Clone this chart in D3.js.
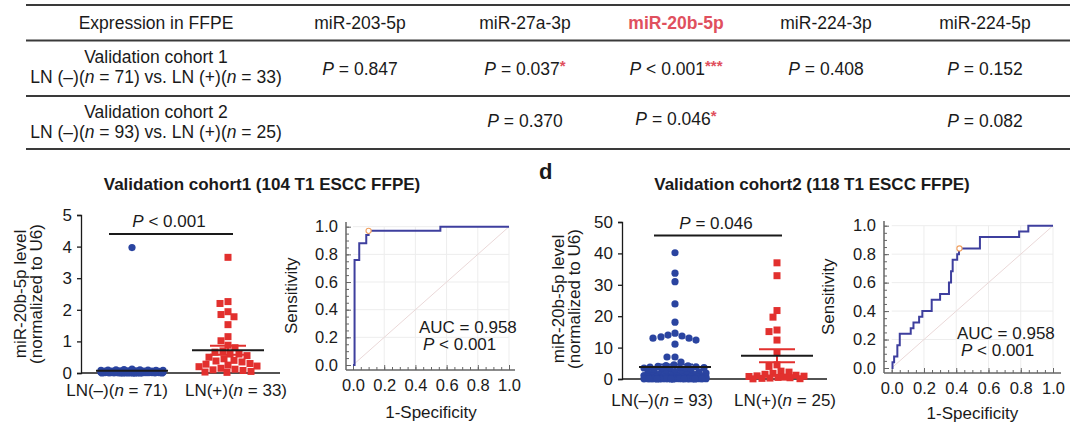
<!DOCTYPE html>
<html><head><meta charset="utf-8">
<script src="https://cdn.jsdelivr.net/npm/d3@7/dist/d3.min.js"></script>
<style>
body{margin:0;background:#fff}
svg{display:block;font-family:"Liberation Sans",Arial,Helvetica,sans-serif;}
</style>
</head><body>
<svg id="c" width="1080" height="428"></svg>
<script>
// ================= DATA =================
// --- table
const tableColumns = ["Expression in FFPE","miR-203-5p","miR-27a-3p","miR-20b-5p","miR-224-3p","miR-224-5p"];
const highlightColumn = "miR-20b-5p";
const cohortNames = ["Validation cohort 1","Validation cohort 2"];
const lnNegN = [71, 93];
const lnPosN = [33, 25];
const pCohort1 = ["= 0.847","= 0.037","< 0.001","= 0.408","= 0.152"];
const starsCohort1 = ["","*","***","",""];
const pCohort2 = ["","= 0.370","= 0.046","","= 0.082"];
const starsCohort2 = ["","","*","",""];

// --- scatter panels (miR-20b-5p level normalized to U6)
const groupNames = ["LN(–)","LN(+)"];
const c1Neg = [3.97,0.12,0.11,0.1,0.1,0.09,0.09,0.08,0.08,0.08,0.07,0.07,0.07,0.06,0.06,0.06,0.06,
  0.05,0.05,0.05,0.05,0.05,0.04,0.04,0.04,0.04,0.04,0.04,0.03,0.03,0.03,0.03,0.03,0.03,0.03,
  0.02,0.02,0.02,0.02,0.02,0.02,0.02,0.02,0.01,0.01,0.01,0.01,0.01,0.01,0.01,0.01,0.01,0.01,0.01,0.01,
  0.005,0.005,0.005,0.005,0.005,0.005,0.005,0.005,0.005,0.005,0.003,0.003,0.003,0.002,0.002,0.001];
const c1Pos = [3.66,2.26,2.2,1.94,1.85,1.78,1.53,1.15,1.02,0.88,0.8,0.7,0.66,0.6,0.6,0.55,0.5,
  0.45,0.4,0.38,0.35,0.3,0.28,0.25,0.22,0.2,0.15,0.12,0.1,0.08,0.05,0.03,0.02];
const c1Mean = [0.07, 0.72];
const c1Sem = [0.02, 0.14];
const c1Ticks = [0,1,2,3,4,5];

const c2Neg = [40.2,33.7,31,23.9,18.1,14.6,14,13.7,13.4,13,13,12.4,11.1,7,7,5.4,
  4.5,4.3,4.2,4.0,3.9,3.8,3.6,3.5,3.4,3.2,
  3.0,2.8,2.6,2.5,2.3,2.2,2.0,1.9,1.8,1.7,
  1.5,1.4,1.3,1.2,1.1,1.0,0.9,0.9,0.8,0.8,
  0.7,0.6,0.6,0.5,0.5,0.4,0.4,0.4,0.3,0.3,
  0.3,0.3,0.25,0.25,0.2,0.2,0.2,0.2,0.18,0.15,
  0.15,0.15,0.12,0.12,0.12,0.1,0.1,0.1,0.1,0.1,0.1,0.09,0.09,0.08,0.08,0.07,0.07,0.06,0.06,0.05,0.05,0.04,0.04,0.03,0.03,0.02,0.01];
const c2Pos = [37,32.9,21.8,19.7,15.6,15.1,12.4,8.4,4.5,4.0,2.5,2.2,1.8,1.5,1.2,1.0,0.9,0.8,0.6,0.5,0.4,0.3,0.2,0.1,0.05];
const c2Mean = [3.8, 7.4];
const c2Sem = [0.8, 2.1];
const c2Ticks = [0,10,20,30,40,50];

const pScatter = ["< 0.001","= 0.046"];

// --- ROC curves (step vertices: 1-specificity, sensitivity)
const roc1Fpr = [0, 0.01, 0.04, 0.085, 0.1, 0.56, 1];
const roc1Tpr = [0, 0.76, 0.88, 0.94, 0.97, 1.0, 1];
const roc1Cut = [0.1, 0.97];
const roc2Fpr = [0,0.005,0.015,0.035,0.05,0.118,0.135,0.17,0.19,0.248,0.3,0.355,0.368,0.378,0.406,0.417,0.547,0.79,0.847,1];
const roc2Tpr = [0,0.04,0.08,0.16,0.24,0.28,0.32,0.36,0.40,0.48,0.52,0.60,0.68,0.76,0.80,0.84,0.92,0.96,1.0,1];
const roc2Cut = [0.42, 0.84];
const aucText = ["AUC = 0.958","AUC = 0.958"];
const aucP = ["< 0.001","< 0.001"];
const rocTicks = [0,0.2,0.4,0.6,0.8,1.0];

// ================= DRAW =================
const svg = d3.select("#c");
const INK = "#1a1a1a";
const BLUE = "#2a44a0", RED = "#e2302e", CURVE = "#3e3f9e", HIL = "#e0505e";
const TFS = 17.5;

// ---------- table ----------
const colX = d3.scaleOrdinal().domain(tableColumns).range([156,360,525,676,826,985]);
const rules = [5, 40.5, 96, 149];
svg.append("g").selectAll("line").data(rules).join("line")
  .attr("x1",26).attr("x2",1070).attr("y1",d=>d).attr("y2",d=>d)
  .attr("stroke","#3a3a3a").attr("stroke-width",2);

svg.append("g").selectAll("text").data(tableColumns).join("text")
  .attr("x",d=>colX(d)).attr("y",29).attr("text-anchor","middle")
  .attr("font-size",TFS)
  .attr("font-weight",d=>d===highlightColumn?"bold":"normal")
  .attr("fill",d=>d===highlightColumn?HIL:INK)
  .text(d=>d);

const rowTop = [57, 112];
cohortNames.forEach((name,i)=>{
  const cy = rowTop[i];
  svg.append("text").attr("x",colX(tableColumns[0])).attr("y",cy+6).attr("text-anchor","middle")
    .attr("font-size",TFS).attr("fill",INK).text(name);
  const t = svg.append("text").attr("x",colX(tableColumns[0])).attr("y",cy+26).attr("text-anchor","middle")
    .attr("font-size",TFS).attr("fill",INK);
  t.append("tspan").text("LN (–)(");
  t.append("tspan").attr("font-style","italic").text("n");
  t.append("tspan").text(` = ${lnNegN[i]}) vs. LN (+)(`);
  t.append("tspan").attr("font-style","italic").text("n");
  t.append("tspan").text(` = ${lnPosN[i]})`);
});
function pCell(x, y, val, stars){
  if(!val) return;
  const t = svg.append("text").attr("x",x).attr("y",y).attr("text-anchor","middle")
    .attr("font-size",TFS).attr("fill",INK);
  t.append("tspan").attr("font-style","italic").text("P");
  t.append("tspan").text(" " + val);
  if(stars) t.append("tspan").attr("fill",HIL).attr("font-weight","bold").attr("font-size",15)
    .attr("dy",-4).text(stars);
}
tableColumns.slice(1).forEach((c,j)=>{
  pCell(colX(c), 75, pCohort1[j], starsCohort1[j]);
  pCell(colX(c), c===highlightColumn?125:127, pCohort2[j], starsCohort2[j]);
});

// ---------- panel titles ----------
svg.append("text").attr("x",262).attr("y",190).attr("text-anchor","middle")
  .attr("font-size",17).attr("font-weight","bold").attr("fill",INK)
  .text("Validation cohort1 (104 T1 ESCC FFPE)");
svg.append("text").attr("x",812).attr("y",190).attr("text-anchor","middle")
  .attr("font-size",17).attr("font-weight","bold").attr("fill",INK)
  .text("Validation cohort2 (118 T1 ESCC FFPE)");
svg.append("text").attr("x",539).attr("y",179).attr("font-size",22).attr("font-weight","bold")
  .attr("fill",INK).text("d");

// ---------- beeswarm helper ----------
function swarm(values, yScale, diam, maxHalf){
  const placed = [];
  const sorted = values.map((v,i)=>({v,i})).sort((a,b)=>b.v-a.v);
  const cands = d3.range(-maxHalf, maxHalf+0.01, 1).sort((a,b)=>Math.abs(a)-Math.abs(b)||a-b);
  sorted.forEach(p=>{
    const py = yScale(p.v);
    let best = null, bestD = -1;
    for(const c of cands){
      let md = Infinity;
      for(const q of placed){ const d = Math.hypot(q.dx-c, q.py-py); if(d<md) md=d; }
      if(md >= diam){ best = c; bestD = md; break; }
      if(md > bestD){ bestD = md; best = c; }
    }
    placed.push({v:p.v, py, dx:best});
  });
  return placed;
}

function scatterPanel(cfg){
  const g = svg.append("g");
  const y = d3.scaleLinear().domain([0, cfg.ticks[cfg.ticks.length-1]]).range([cfg.y0, cfg.yTop]);
  const x = d3.scalePoint().domain(groupNames).range(cfg.centers);
  const lx = d3.scalePoint().domain(groupNames).range(cfg.labelCenters);
  // y axis
  const ax = d3.axisLeft(y).tickValues(cfg.ticks).tickSize(4).tickPadding(5).tickFormat(d3.format("d"));
  const ag = g.append("g").attr("transform",`translate(${cfg.axisX},0)`).call(ax);
  ag.select(".domain").attr("stroke",INK).attr("stroke-width",1.3);
  ag.selectAll(".tick line").attr("stroke",INK).attr("stroke-width",1.3);
  ag.selectAll(".tick text").attr("font-size",17).attr("fill",INK).attr("font-family",null);
  // baseline
  g.append("line").attr("x1",cfg.axisX).attr("x2",cfg.endX).attr("y1",y(0)).attr("y2",y(0))
    .attr("stroke",INK).attr("stroke-width",1.5);
  // points
  const neg = swarm(cfg.neg, y, 7.2, 31);
  g.append("g").selectAll("circle").data(neg).join("circle")
    .attr("cx",d=>x(groupNames[0])+d.dx).attr("cy",d=>d.py).attr("r",3.6).attr("fill",BLUE);
  const pos = swarm(cfg.pos, y, 7.4, 30);
  g.append("g").selectAll("rect").data(pos).join("rect")
    .attr("x",d=>x(groupNames[1])+d.dx-3.5).attr("y",d=>d.py-3.5).attr("width",7).attr("height",7).attr("fill",RED);
  // mean and SEM
  groupNames.forEach((gn,i)=>{
    const cx = x(gn), col = i===0?BLUE:RED;
    const m = cfg.mean[i], s = cfg.sem[i];
    g.append("line").attr("x1",cx).attr("x2",cx).attr("y1",y(m+s)).attr("y2",y(m-s)).attr("stroke",col).attr("stroke-width",2);
    [m+s, m-s].forEach(v=>g.append("line").attr("x1",cx-18).attr("x2",cx+18).attr("y1",y(v)).attr("y2",y(v)).attr("stroke",col).attr("stroke-width",2));
    g.append("line").attr("x1",cx-36).attr("x2",cx+36).attr("y1",y(m)).attr("y2",y(m)).attr("stroke",INK).attr("stroke-width",2);
  });
  // significance bar
  const bx1 = lx(groupNames[0])-8, bx2 = lx(groupNames[1])-3;
  g.append("line").attr("x1",bx1).attr("x2",bx2).attr("y1",y(cfg.barV)).attr("y2",y(cfg.barV)).attr("stroke",INK).attr("stroke-width",2);
  const pt = g.append("text").attr("x",(bx1+bx2)/2-2).attr("y",y(cfg.barV)-7).attr("text-anchor","middle").attr("font-size",17).attr("fill",INK);
  pt.append("tspan").attr("font-style","italic").text("P");
  pt.append("tspan").text(" " + cfg.p);
  // category labels
  [cfg.nNeg, cfg.nPos].forEach((n,i)=>{
    const t = g.append("text").attr("x",lx(groupNames[i])).attr("y",cfg.labelY).attr("text-anchor","middle").attr("font-size",17).attr("fill",INK);
    t.append("tspan").text(groupNames[i]+"(");
    t.append("tspan").attr("font-style","italic").text("n");
    t.append("tspan").text(` = ${n})`);
  });
  // y title
  const yt = g.append("text").attr("transform",`translate(${cfg.titleX},${cfg.titleY}) rotate(-90)`)
    .attr("text-anchor","middle").attr("font-size",17).attr("fill",INK);
  yt.append("tspan").attr("x",0).attr("y",0).text("miR-20b-5p level");
  yt.append("tspan").attr("x",0).attr("y",15.5).text("(normalized to U6)");
}

scatterPanel({neg:c1Neg,pos:c1Pos,mean:c1Mean,sem:c1Sem,ticks:c1Ticks,p:pScatter[0],nNeg:lnNegN[0],nPos:lnPosN[0],
  axisX:81, y0:373, yTop:215, endX:280, centers:[132,228], labelCenters:[117,236], labelY:396, barV:4.4,
  titleX:26, titleY:294});
scatterPanel({neg:c2Neg,pos:c2Pos,mean:c2Mean,sem:c2Sem,ticks:c2Ticks,p:pScatter[1],nNeg:lnNegN[1],nPos:lnPosN[1],
  axisX:622, y0:379, yTop:222, endX:827, centers:[675,777], labelCenters:[662,785], labelY:406, barV:45.7,
  titleX:564, titleY:299});

// ---------- ROC ----------
function rocPanel(cfg, fpr, tpr, cut, auc, p){
  const g = svg.append("g");
  const x = d3.scaleLinear().domain([0,1]).range([cfg.x0, cfg.x1]);
  const y = d3.scaleLinear().domain([0,1]).range([cfg.y0, cfg.y1]);
  const grid = rocTicks.slice(1);
  g.append("g").selectAll("line").data(grid).join("line")
    .attr("x1",d=>x(d)).attr("x2",d=>x(d)).attr("y1",y(0)).attr("y2",y(1)).attr("stroke","#ededed");
  g.append("g").selectAll("line").data(grid).join("line")
    .attr("y1",d=>y(d)).attr("y2",d=>y(d)).attr("x1",x(0)).attr("x2",x(1)).attr("stroke","#ededed");
  g.append("line").attr("x1",x(0)).attr("y1",y(0)).attr("x2",x(1)).attr("y2",y(1)).attr("stroke","#ead8d8").attr("stroke-width",1);
  // axes
  const minor = d3.range(0,1.0001,0.05);
  const xa = g.append("g").attr("transform",`translate(0,${cfg.axisY})`)
    .call(d3.axisBottom(x).tickValues(rocTicks).tickFormat(d3.format(".1f")).tickSizeInner(-5).tickSizeOuter(0).tickPadding(9));
  g.append("g").attr("transform",`translate(0,${cfg.axisY})`)
    .call(d3.axisBottom(x).tickValues(minor).tickFormat("").tickSizeInner(-3).tickSizeOuter(0)).select(".domain").remove();
  const ya = g.append("g").attr("transform",`translate(${cfg.axisX},0)`)
    .call(d3.axisLeft(y).tickValues(rocTicks).tickFormat(d3.format(".1f")).tickSizeInner(-5).tickSizeOuter(0).tickPadding(8));
  g.append("g").attr("transform",`translate(${cfg.axisX},0)`)
    .call(d3.axisLeft(y).tickValues(minor).tickFormat("").tickSizeInner(-3).tickSizeOuter(0)).select(".domain").remove();
  [xa,ya].forEach(a=>{a.select(".domain").remove();});
  g.selectAll(".tick line").attr("stroke","#666");
  g.selectAll(".tick text").attr("font-size",16.5).attr("fill",INK).attr("font-family",null);
  g.append("line").attr("x1",cfg.axisX).attr("x2",cfg.axisXEnd).attr("y1",cfg.axisY).attr("y2",cfg.axisY).attr("stroke","#666").attr("stroke-width",1.5);
  g.append("line").attr("x1",cfg.axisX).attr("x2",cfg.axisX).attr("y1",cfg.axisY).attr("y2",cfg.axisYTop).attr("stroke","#666").attr("stroke-width",1.5);
  // curve
  const pts = fpr.map((f,i)=>[f,tpr[i]]);
  g.append("path").datum(pts).attr("fill","none").attr("stroke",CURVE).attr("stroke-width",2)
    .attr("d",d3.line().x(d=>x(d[0])).y(d=>y(d[1])).curve(d3.curveStepAfter));
  g.append("circle").attr("cx",x(cut[0])).attr("cy",y(cut[1])).attr("r",2.6).attr("fill","#fff").attr("stroke","#f0a060").attr("stroke-width",1.1);
  // texts
  g.append("text").attr("x",cfg.aucX).attr("y",cfg.aucY).attr("font-size",17).attr("fill",INK).text(auc);
  const pt = g.append("text").attr("x",cfg.aucX+4).attr("y",cfg.aucY+17).attr("font-size",17).attr("fill",INK);
  pt.append("tspan").attr("font-style","italic").text("P");
  pt.append("tspan").text(" " + p);
  g.append("text").attr("x",(cfg.x0+cfg.x1)/2).attr("y",cfg.xTitleY).attr("text-anchor","middle").attr("font-size",17).attr("fill",INK).text("1-Specificity");
  g.append("text").attr("transform",`translate(${cfg.yTitleX},${(cfg.y0+cfg.y1)/2}) rotate(-90)`).attr("text-anchor","middle").attr("font-size",17).attr("fill",INK).text("Sensitivity");
}
rocPanel({x0:353,x1:509,y0:365,y1:226.7,axisX:346,axisY:370,axisXEnd:515,axisYTop:222,aucX:419,aucY:333,xTitleY:418,yTitleX:297},
  roc1Fpr, roc1Tpr, roc1Cut, aucText[0], aucP[0]);
rocPanel({x0:891.7,x1:1053,y0:368,y1:225.7,axisX:884,axisY:373,axisXEnd:1061,axisYTop:221,aucX:957,aucY:339,xTitleY:419,yTitleX:834},
  roc2Fpr, roc2Tpr, roc2Cut, aucText[1], aucP[1]);
</script>
</body></html>
